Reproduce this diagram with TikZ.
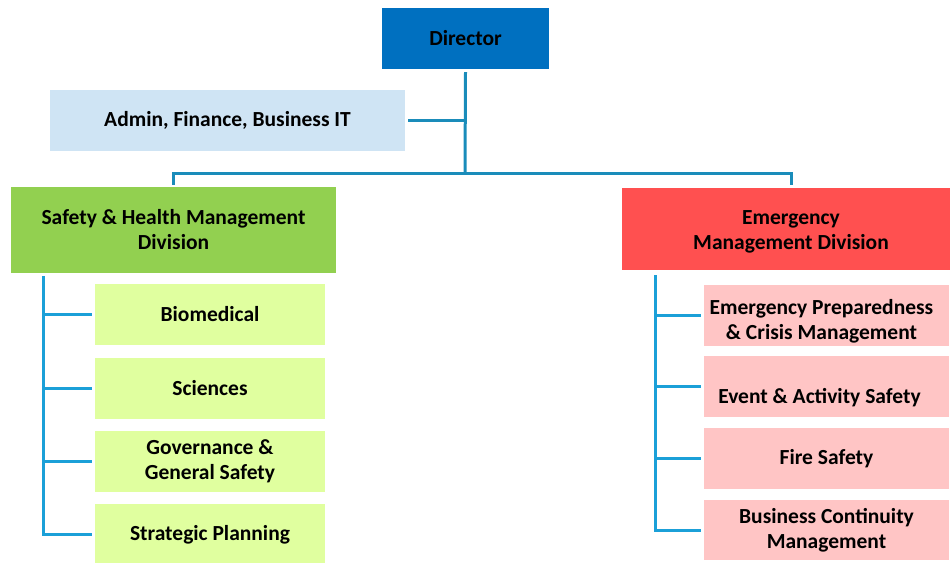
\documentclass[tikz,border=0pt]{standalone}
\usepackage{fontspec}
\setmainfont{Carlito}
\definecolor{dirblue}{HTML}{0070C0}
\definecolor{adminblue}{HTML}{CFE4F4}
\definecolor{divgreen}{HTML}{92D050}
\definecolor{subgreen}{HTML}{E0FF9F}
\definecolor{divred}{HTML}{FF5050}
\definecolor{subred}{HTML}{FFC5C5}
\definecolor{linetop}{HTML}{1A8CBA}
\definecolor{linesub}{HTML}{1BA0D8}
\begin{document}
\begin{tikzpicture}[x=1pt,y=-1pt,
  box/.style={rectangle, inner sep=2pt, align=center, font=\fontsize{21.5}{25}\selectfont\bfseries, text=black},
  conn/.style={draw=linetop, line width=3pt},
  subconn/.style={draw=linesub, line width=3pt}]
\useasboundingbox (0,0) rectangle (950,562);
\node[box, fill=dirblue, minimum width=167pt, minimum height=61pt] (dir) at (465.5,38.5) {Director};
\node[box, fill=adminblue, minimum width=355pt, minimum height=61pt] (admin) at (227.5,120.5) {Admin, Finance, Business IT};
\node[box, fill=divgreen, minimum width=325pt, minimum height=86pt] (shm) at (173.5,230) {Safety \& Health Management\\Division};
\node[box, fill=divred, minimum width=338pt, minimum height=82pt,
  label={[box, yshift=-3pt]center:Emergency\\Management Division}] (emd) at (791,229) {};
% left subunits
\node[box, fill=subgreen, minimum width=230pt, minimum height=61pt] (bio) at (210,314.5) {Biomedical};
\node[box, fill=subgreen, minimum width=230pt, minimum height=61pt] (sci) at (210,388.5) {Sciences};
\node[box, fill=subgreen, minimum width=230pt, minimum height=61pt] (gov) at (210,461.5) {Governance \&\\General Safety};
\node[box, fill=subgreen, minimum width=230pt, minimum height=61pt] (str) at (210,534.5) {Strategic Planning};
% right subunits
\node[box, fill=subred, minimum width=245pt, minimum height=61pt,
  label={[box, yshift=-6pt, xshift=-5pt]center:Emergency Preparedness\\\& Crisis Management}] (epc) at (826.5,315.5) {};
\node[box, fill=subred, minimum width=245pt, minimum height=61pt,
  label={[box, yshift=-11pt, xshift=-7pt]center:Event \& Activity Safety}] (eas) at (826.5,386.5) {};
\node[box, fill=subred, minimum width=245pt, minimum height=61pt] (fire) at (826.5,458.5) {Fire Safety};
\node[box, fill=subred, minimum width=245pt, minimum height=60pt] (bcm) at (826.5,530) {Business Continuity\\Management};
% bus coordinates
\coordinate (bus) at (465,173);
\coordinate (lbar) at (43,276);
\coordinate (rbar) at (655,275);
% top connectors
\draw[conn] ([yshift=-3pt]dir.south) -- (bus);
\draw[conn] ([xshift=3pt]admin.east) -- (admin.east -| bus);
\draw[conn] ([yshift=2pt]shm.north) |- (bus) -| ([yshift=3pt]emd.north);
% left tree
\draw[subconn] (lbar) |- ([xshift=-3pt]str.west);
\draw[subconn] (lbar |- bio) -- ([xshift=-3pt]bio.west);
\draw[subconn] (lbar |- sci) -- ([xshift=-3pt]sci.west);
\draw[subconn] (lbar |- gov) -- ([xshift=-3pt]gov.west);
% right tree
\draw[subconn] (rbar) |- ([xshift=-3pt]bcm.west);
\draw[subconn] (rbar |- epc) -- ([xshift=-3pt]epc.west);
\draw[subconn] (rbar |- eas) -- ([xshift=-3pt]eas.west);
\draw[subconn] (rbar |- fire) -- ([xshift=-3pt]fire.west);
\end{tikzpicture}
\end{document}
